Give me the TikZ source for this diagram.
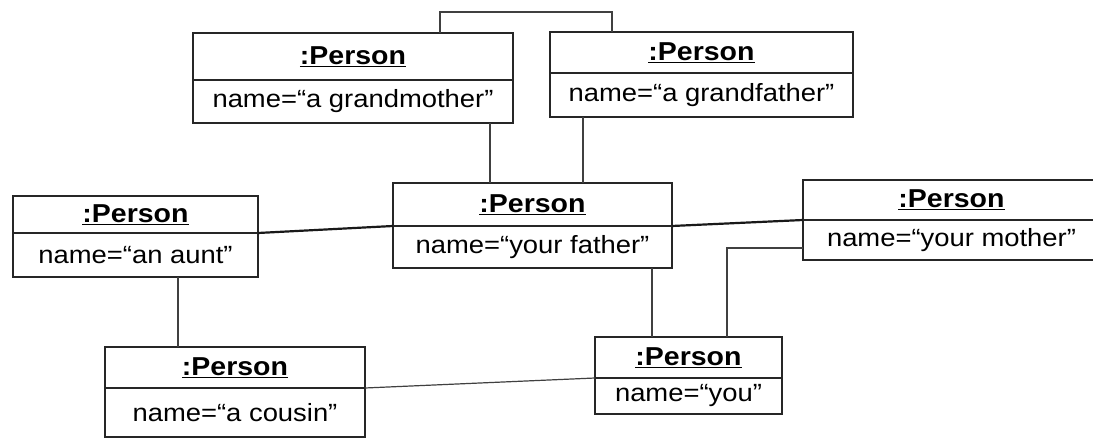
\documentclass[tikz,border=0pt]{standalone}
\usepackage{fontspec}
\setmainfont{Liberation Sans}[FakeStretch=1.1]
\newcommand\umlobj[7]{%
  \pgfmathsetmacro\objW{#3-#2}%
  \pgfmathsetmacro\objH{#5-#4}%
  \pgfmathsetmacro\objA{#6-#5}%
  \node[hdr,anchor=north west,minimum width=\objW bp,minimum height=\objH bp] (#1h) at (#2,#4) {\underline{:Person}};
  \node[attr,anchor=north west,minimum width=\objW bp,minimum height=\objA bp] (#1a) at (#2,#5) {#7};}
\begin{document}
\begin{tikzpicture}[x=1bp,y=-1bp,
  box/.style={draw=black!85, line width=1.6bp, inner sep=0pt, outer sep=0pt},
  hdr/.style={box, font=\fontsize{26}{30}\selectfont\bfseries},
  attr/.style={box, font=\fontsize{25}{30}\selectfont},
  link/.style={draw=black!75, line width=1.2bp},
  mainlink/.style={draw=black!90, line width=2.2bp}]
\fill[white] (0,0) rectangle (1093,444);
\useasboundingbox (0,0) rectangle (1093,444);
\begin{scope}
\clip (0,0) rectangle (1093,444);
\umlobj{gm}{193}{513}{33}{80}{123}{name=“a grandmother”}
\umlobj{gf}{550}{853}{32}{73}{117}{name=“a grandfather”}
\umlobj{au}{13}{258}{196}{233}{277}{name=“an aunt”}
\umlobj{fa}{393}{672}{183}{226}{268}{name=“your father”}
\umlobj{mo}{803}{1100}{180}{220}{260}{name=“your mother”}
\umlobj{yo}{595}{782}{337}{378}{414}{name=“you”}
\umlobj{co}{105}{365}{347}{388}{437}{name=“a cousin”}
\end{scope}
% connectors
\draw[link] ([xshift=247bp]gmh.north west) -- ++(0,-21) -| ([xshift=62bp]gfh.north west);
\coordinate (gmb) at ([xshift=297bp]gma.south west);
\coordinate (gfb) at ([xshift=33bp]gfa.south west);
\draw[link] (gmb) -- (gmb |- fah.north);
\draw[link] (gfb) -- (gfb |- fah.north);
\draw[mainlink] (auh.south east) -- (fah.south west);
\draw[mainlink] (fah.south east) -- (moh.south west);
\coordinate (aub) at ([xshift=165bp]aua.south west);
\draw[link] (aub) -- (aub |- coh.north);
\draw[link] (coh.south east) -- (yoh.south west);
\coordinate (fab) at ([xshift=-20bp]faa.south east);
\draw[link] (fab) -- (fab |- yoh.north);
\coordinate (mol) at ([yshift=-28bp]moa.north west);
\coordinate (yot) at ([xshift=132bp]yoh.north west);
\draw[link] (mol) -| (yot);
\end{tikzpicture}
\end{document}
